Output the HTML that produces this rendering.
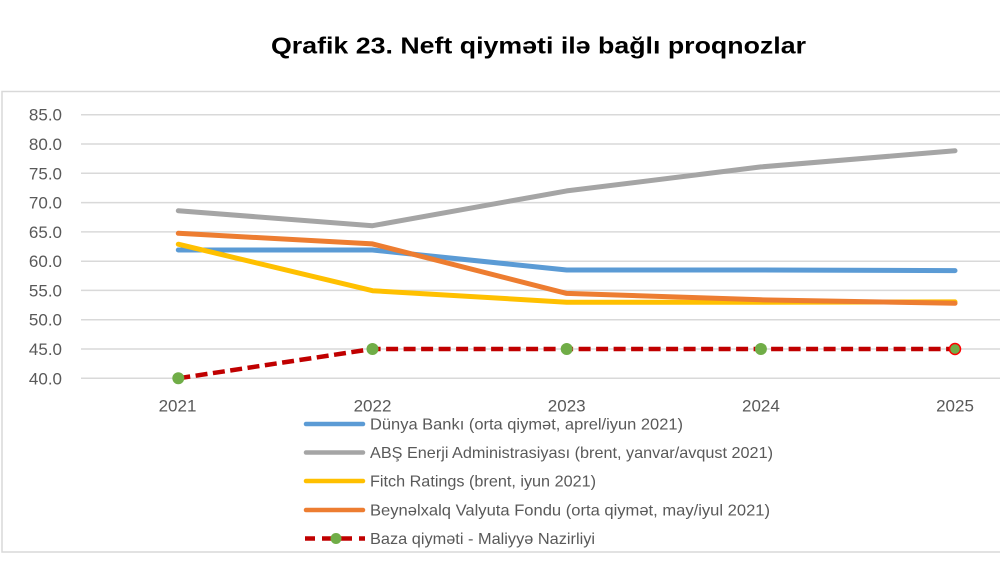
<!DOCTYPE html>
<html>
<head>
<meta charset="utf-8">
<style>
  html,body{margin:0;padding:0;background:#fff;}
  svg{display:block;}
  text{font-family:"Liberation Sans",Arial,sans-serif;}
</style>
</head>
<body>
<svg width="1000" height="570" viewBox="0 0 1000 570" xmlns="http://www.w3.org/2000/svg">
  <rect x="0" y="0" width="1000" height="570" fill="#fff"/>
  <!-- title -->
  <text x="271" y="53.5" font-size="23" font-weight="bold" fill="#000" textLength="535" lengthAdjust="spacingAndGlyphs">Qrafik 23. Neft qiymәti ilә bağlı proqnozlar</text>

  <!-- chart border -->
  <rect x="2" y="91.5" width="1010" height="460.5" fill="none" stroke="#d9d9d9" stroke-width="1.5"/>

  <!-- gridlines -->
  <g stroke="#d9d9d9" stroke-width="1.5">
    <line x1="81" y1="114.7" x2="1000" y2="114.7"/>
    <line x1="81" y1="144.0" x2="1000" y2="144.0"/>
    <line x1="81" y1="173.3" x2="1000" y2="173.3"/>
    <line x1="81" y1="202.6" x2="1000" y2="202.6"/>
    <line x1="81" y1="231.9" x2="1000" y2="231.9"/>
    <line x1="81" y1="261.2" x2="1000" y2="261.2"/>
    <line x1="81" y1="290.4" x2="1000" y2="290.4"/>
    <line x1="81" y1="319.7" x2="1000" y2="319.7"/>
    <line x1="81" y1="349.0" x2="1000" y2="349.0"/>
    <line x1="81" y1="378.3" x2="1000" y2="378.3"/>
  </g>

  <!-- y labels -->
  <g font-size="17" fill="#595959" text-anchor="end">
    <text x="62" y="120.7">85.0</text>
    <text x="62" y="150.0">80.0</text>
    <text x="62" y="179.3">75.0</text>
    <text x="62" y="208.6">70.0</text>
    <text x="62" y="237.9">65.0</text>
    <text x="62" y="267.2">60.0</text>
    <text x="62" y="296.4">55.0</text>
    <text x="62" y="325.7">50.0</text>
    <text x="62" y="355.0">45.0</text>
    <text x="62" y="384.3">40.0</text>
  </g>

  <!-- x labels -->
  <g font-size="17" fill="#595959" text-anchor="middle">
    <text x="177.5" y="411.5">2021</text>
    <text x="372.5" y="411.5">2022</text>
    <text x="566.7" y="411.5">2023</text>
    <text x="760.9" y="411.5">2024</text>
    <text x="955" y="411.5">2025</text>
  </g>

  <!-- series -->
  <g fill="none" stroke-width="5" stroke-linejoin="round" stroke-linecap="round">
    <polyline stroke="#5B9BD5" points="178.3,250.0 372.5,250.0 566.7,270.0 760.9,270.0 955,270.6"/>
    <polyline stroke="#A5A5A5" points="178.3,210.8 372.5,225.7 566.7,190.9 760.9,166.9 955,150.8"/>
    <polyline stroke="#FFC000" points="178.3,244.2 372.5,290.7 566.7,302.2 760.9,302.2 955,301.9"/>
    <polyline stroke="#ED7D31" points="178.3,233.3 372.5,243.9 566.7,293.4 760.9,299.8 955,303.3"/>
  </g>
  <polyline fill="none" stroke="#C00000" stroke-width="4.5" stroke-dasharray="12 5.5" points="178.3,378.3 372.5,349.0 566.7,349.0 760.9,349.0 955,349.0"/>
  <g fill="#70AD47">
    <circle cx="178.3" cy="378.3" r="6"/>
    <circle cx="372.5" cy="349.0" r="6"/>
    <circle cx="566.7" cy="349.0" r="6"/>
    <circle cx="760.9" cy="349.0" r="6"/>
    <circle cx="955" cy="349.0" r="5.5" stroke="#FF0000" stroke-width="1.5"/>
  </g>

  <!-- legend -->
  <g stroke-width="4.5" stroke-linecap="round">
    <line x1="306" y1="424" x2="363" y2="424" stroke="#5B9BD5"/>
    <line x1="306" y1="452.5" x2="363" y2="452.5" stroke="#A5A5A5"/>
    <line x1="306" y1="481" x2="363" y2="481" stroke="#FFC000"/>
    <line x1="306" y1="510" x2="363" y2="510" stroke="#ED7D31"/>
  </g>
  <g stroke="#C00000" stroke-width="4.5">
    <line x1="305" y1="538.5" x2="315" y2="538.5"/>
    <line x1="322" y1="538.5" x2="352" y2="538.5"/>
    <line x1="359" y1="538.5" x2="365" y2="538.5"/>
  </g>
  <circle cx="336" cy="538.5" r="5.5" fill="#70AD47"/>

  <g font-size="16" fill="#595959">
    <text x="370" y="429.5" textLength="313" lengthAdjust="spacingAndGlyphs">Dünya Bankı (orta qiymәt, aprel/iyun 2021)</text>
    <text x="370" y="458" textLength="403" lengthAdjust="spacingAndGlyphs">ABŞ Enerji Administrasiyası (brent, yanvar/avqust 2021)</text>
    <text x="370" y="486.5" textLength="226" lengthAdjust="spacingAndGlyphs">Fitch Ratings (brent, iyun 2021)</text>
    <text x="370" y="515.5" textLength="400" lengthAdjust="spacingAndGlyphs">Beynәlxalq Valyuta Fondu (orta qiymәt, may/iyul 2021)</text>
    <text x="370" y="544" textLength="225" lengthAdjust="spacingAndGlyphs">Baza qiymәti - Maliyyә Nazirliyi</text>
  </g>
</svg>
</body>
</html>
